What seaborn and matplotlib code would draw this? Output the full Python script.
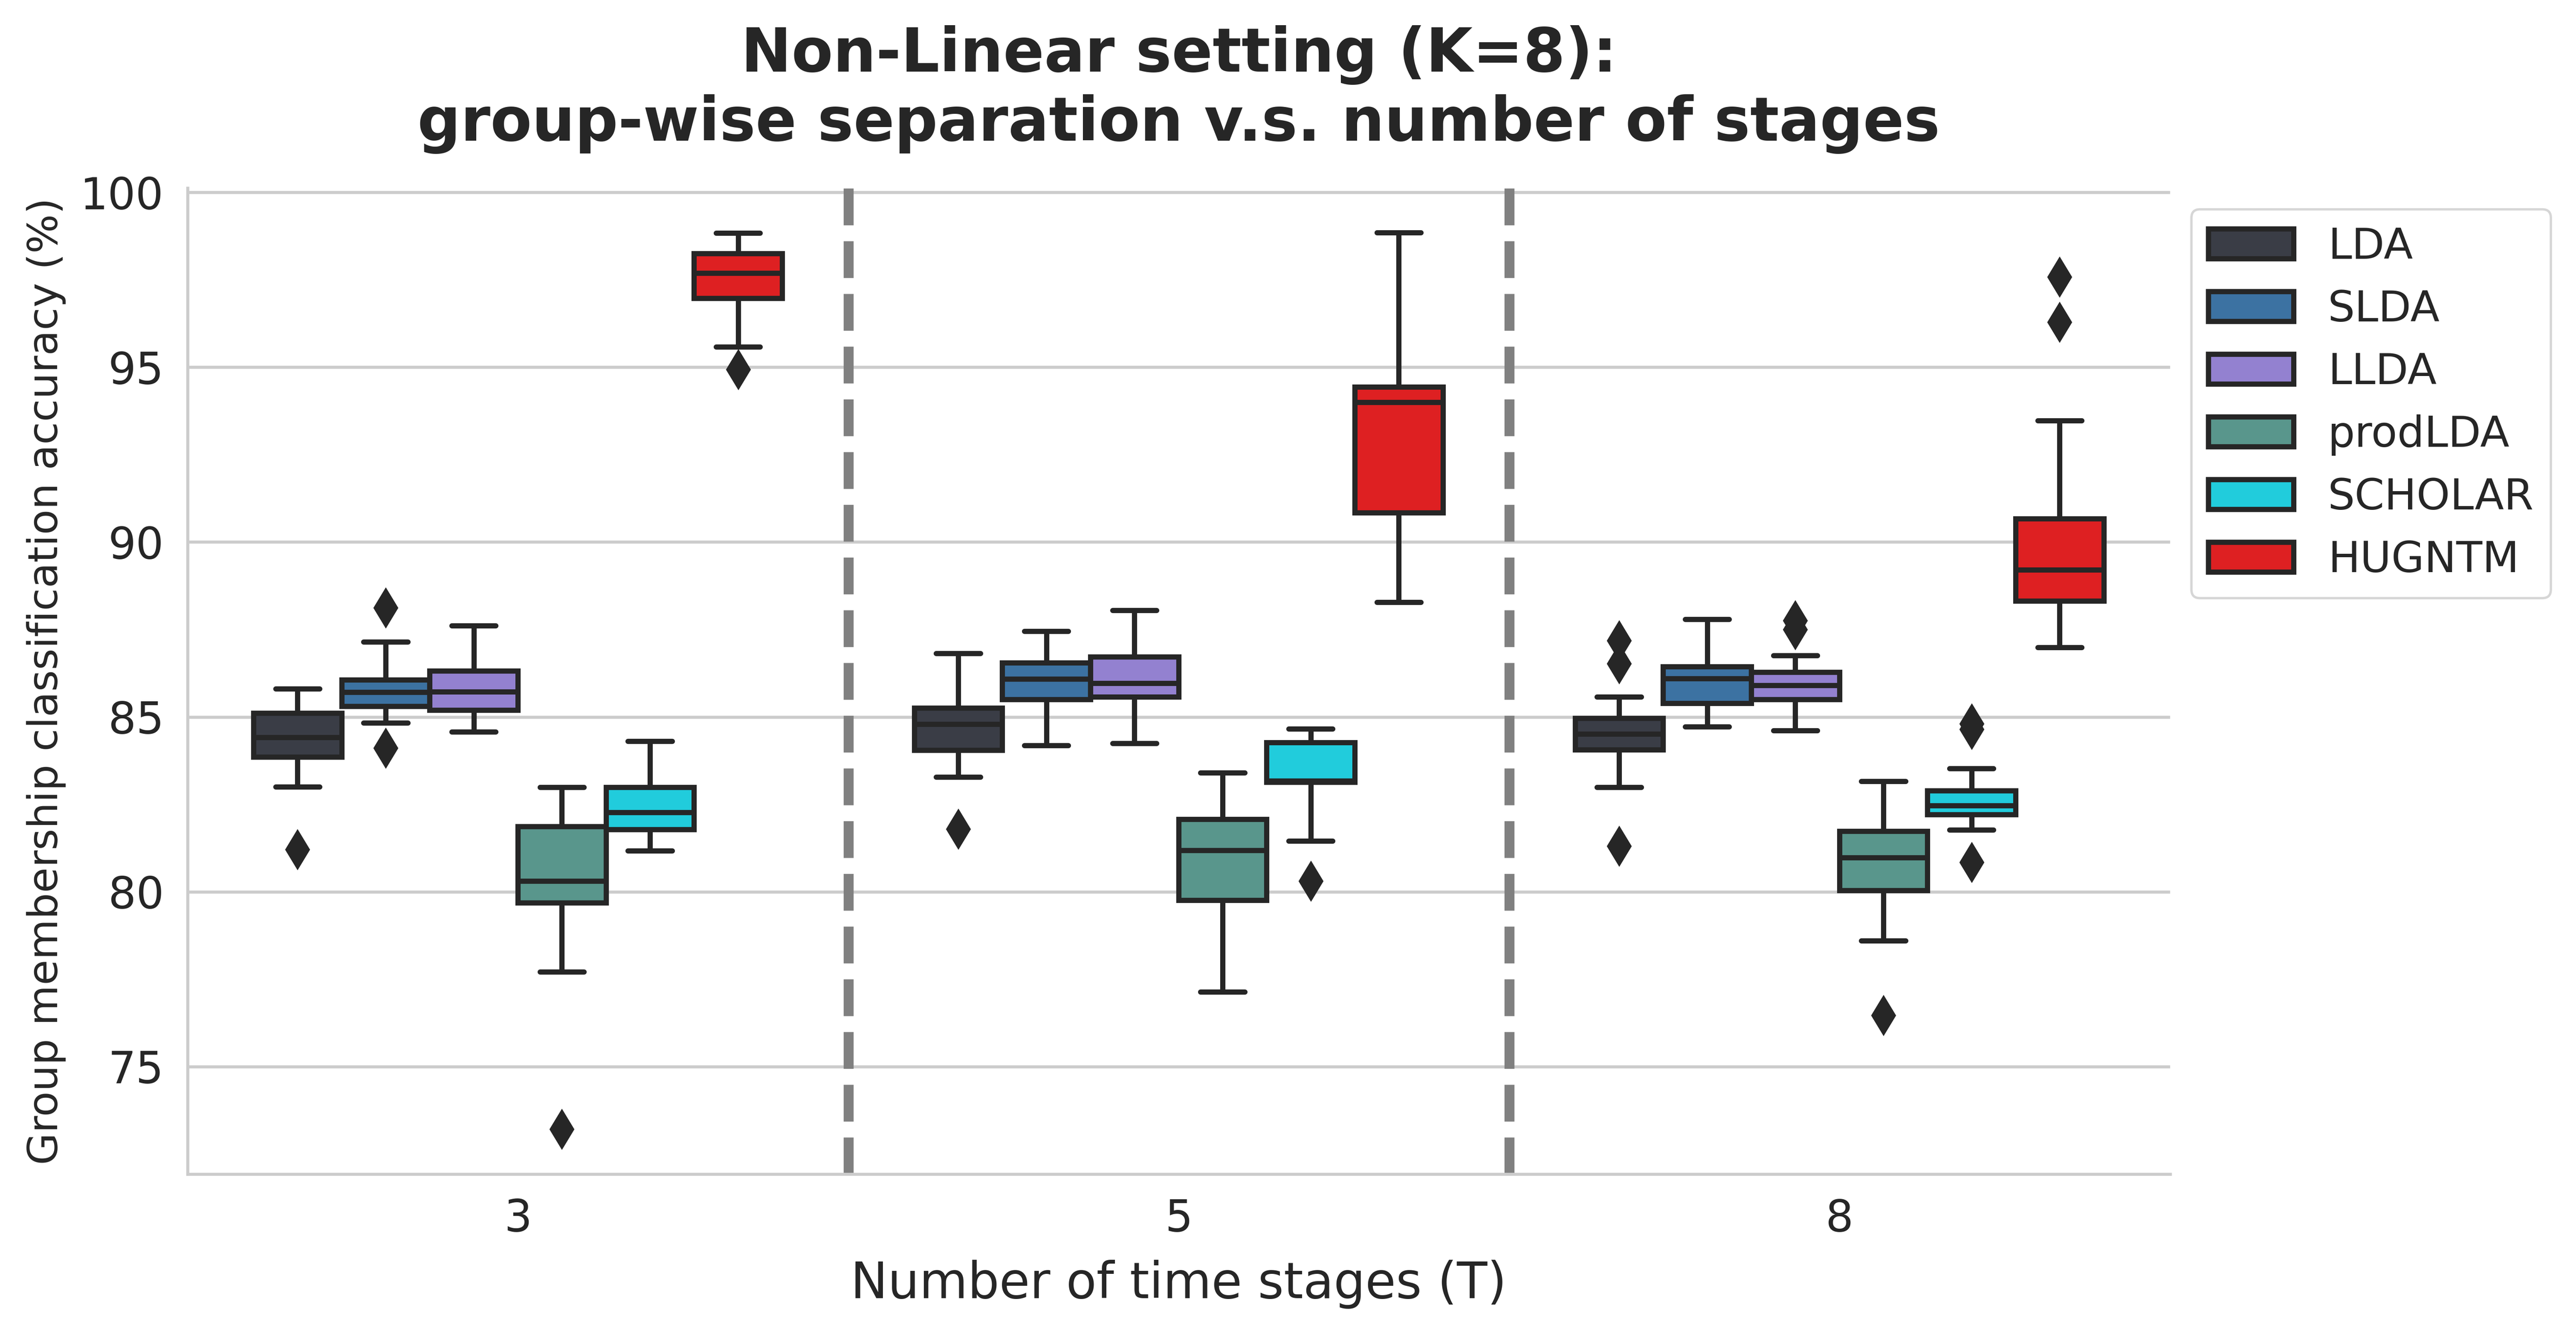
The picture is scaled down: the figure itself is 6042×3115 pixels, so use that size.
import pandas as pd
import matplotlib.pyplot as plt
import seaborn as sns

# Stages on the x axis and the six compared methods
stages = ['3', '5', '8']
methods = ['LDA', 'SLDA', 'LLDA', 'prodLDA', 'SCHOLAR', 'HUGNTM']
colors = ['#3a3d46', '#3c72a2', '#9381d0', '#59968c', '#21ccdc', '#de2022']

# Box statistics: one row per method, one column per stage (3, 5, 8)
whisker_lo = [[83.00, 83.28, 82.98], [84.83, 84.18, 84.72], [84.57, 84.24, 84.61],
              [77.70, 77.13, 78.59], [81.17, 81.45, 81.76], [95.58, 88.28, 86.98]]
q1 = [[83.85, 84.05, 84.06], [85.30, 85.49, 85.38], [85.19, 85.57, 85.49],
      [79.68, 79.75, 80.04], [81.78, 83.13, 82.21], [96.97, 90.84, 88.31]]
median = [[84.41, 84.79, 84.51], [85.70, 86.08, 86.09], [85.72, 85.96, 85.90],
          [80.30, 81.18, 80.97], [82.27, 83.17, 82.46], [97.68, 93.99, 89.20]]
q3 = [[85.10, 85.25, 84.96], [86.05, 86.54, 86.43], [86.31, 86.72, 86.27],
      [81.86, 82.07, 81.73], [82.99, 84.27, 82.89], [98.24, 94.43, 90.66]]
whisker_hi = [[85.80, 86.81, 85.57], [87.14, 87.45, 87.79], [87.60, 88.04, 86.75],
              [82.98, 83.40, 83.16], [84.30, 84.65, 83.52], [98.83, 98.84, 93.47]]
outliers = [[[81.21], [81.79], [81.30, 86.52, 87.18]],
            [[84.11, 88.11], [], []],
            [[], [], [87.50, 87.75]],
            [[73.21], [], [76.46]],
            [[], [80.30], [80.84, 84.64, 84.80]],
            [[94.93], [], [96.28, 97.57]]]


def sample_from_stats(lo, a, med, b, hi, fliers):
    # 17 sorted values so that the quartiles land exactly on a, med, b
    low = sorted(v for v in fliers if v < a)
    high = sorted(v for v in fliers if v > b)
    return (low + [lo] + [a] * (3 - len(low)) + [a] + [med] * 7 + [b]
            + [b] * (3 - len(high)) + [hi] + high)


rows = []
for i, m in enumerate(methods):
    for j, s in enumerate(stages):
        vals = sample_from_stats(whisker_lo[i][j], q1[i][j], median[i][j],
                                 q3[i][j], whisker_hi[i][j], outliers[i][j])
        rows += [{'stage': s, 'method': m, 'acc': v} for v in vals]
df = pd.DataFrame(rows)

sns.set_theme(style='whitegrid')
plt.rcParams['font.family'] = ['DejaVu Sans']

fig, ax = plt.subplots(figsize=(15.105, 7.7875), dpi=400)
fig.subplots_adjust(left=0.0728, right=0.8424, top=0.8584, bottom=0.1159)

sns.boxplot(data=df, x='stage', y='acc', hue='method', order=stages, hue_order=methods,
            palette=colors, saturation=1, linewidth=2.2, linecolor='#262626',
            fliersize=11,
            flierprops=dict(marker='d', markerfacecolor='#262626', markeredgecolor='#262626'),
            capprops=dict(solid_capstyle='round'), ax=ax)

for x in [0.5, 1.5]:
    ax.axvline(x, color='gray', linestyle='--', linewidth=4.2)

ax.grid(True, axis='y', color='.8', linewidth=1.3)
ax.grid(False, axis='x')
sns.despine(ax=ax)
for side in ['left', 'bottom']:
    ax.spines[side].set_color('.8')
    ax.spines[side].set_linewidth(1.3)

ax.tick_params(axis='both', labelsize=18.5, length=0, pad=10)
ax.set_xlabel('Number of time stages (T)', fontsize=21, labelpad=8)
ax.set_ylabel('Group membership classification accuracy (%)', fontsize=17.5, labelpad=6)
ax.set_title('Non-Linear setting (K=8):\ngroup-wise separation v.s. number of stages',
             fontsize=25.5, fontweight='bold', pad=20)

sns.move_legend(ax, 'upper left', bbox_to_anchor=(1, 1), title=None, fontsize=18)

plt.savefig('out.png', dpi=400)
